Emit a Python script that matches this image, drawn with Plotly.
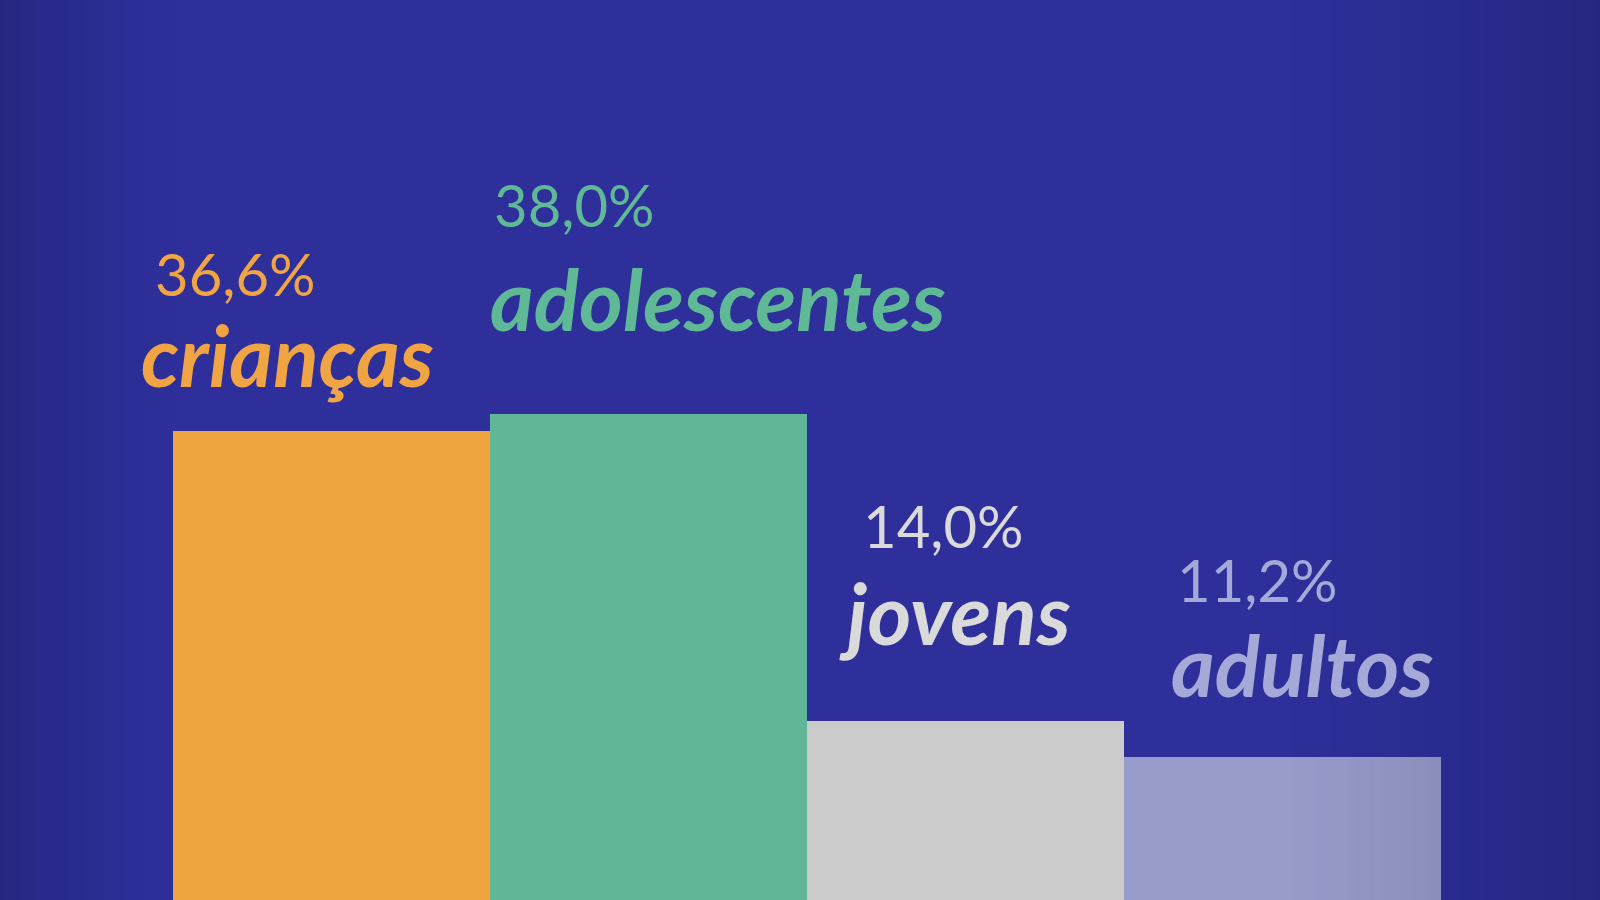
import plotly.graph_objects as go

# ---- data ----
categories = ["crianças", "adolescentes", "jovens", "adultos"]
values = [36.6, 38.0, 14.0, 11.2]
value_labels = ["36,6%", "38,0%", "14,0%", "11,2%"]
bar_colors = ["#EFA43F", "#61B697", "#CBCBCB", "#979CCB"]
text_colors = ["#F0A443", "#5FB896", "#DADADA", "#A4A9D8"]

W, H = 1600, 900
BG = "#2E2F9A"

fig = go.Figure()
fig.add_trace(go.Bar(
    x=list(range(len(categories))),
    y=values,
    width=1.0,
    marker=dict(color=bar_colors, line=dict(width=0)),
    hoverinfo="skip",
    showlegend=False,
))

# label placement (pixel positions in the 1600x900 canvas)
pct_pos = [(153, 273), (492, 204), (861, 525), (1175, 579)]
name_pos = [(139, 354), (488, 298), (837, 612), (1169, 664)]

annotations = []
for i in range(len(categories)):
    px, py = pct_pos[i]
    annotations.append(dict(
        text=value_labels[i], xref="paper", yref="paper",
        x=px / W, y=1 - py / H, xanchor="left", yanchor="middle",
        showarrow=False,
        font=dict(family="Lato", size=58, color=text_colors[i], weight=400),
    ))
    nx, ny = name_pos[i]
    annotations.append(dict(
        text=categories[i], xref="paper", yref="paper",
        x=nx / W, y=1 - ny / H, xanchor="left", yanchor="middle",
        showarrow=False,
        font=dict(family="Lato", size=84, color=text_colors[i],
                  weight="bold", style="italic"),
    ))

# vignette overlay at left and right edges
shapes = []
step = 5
for x0 in range(0, 175, step):
    a = 0.2 * (1 - x0 / 175) ** 1.3
    shapes.append(dict(type="rect", xref="paper", yref="paper",
                       x0=x0 / W, x1=(x0 + step) / W, y0=0, y1=1,
                       fillcolor=f"rgba(10,10,40,{a:.3f})",
                       line=dict(width=0), layer="above"))
for x0 in range(1280, W, step):
    a = 0.22 * ((x0 - 1280) / (W - 1280)) ** 1.2
    shapes.append(dict(type="rect", xref="paper", yref="paper",
                       x0=x0 / W, x1=min(x0 + step, W) / W, y0=0, y1=1,
                       fillcolor=f"rgba(10,10,40,{a:.3f})",
                       line=dict(width=0), layer="above"))

fig.update_layout(
    width=W, height=H,
    margin=dict(l=0, r=0, t=0, b=0),
    paper_bgcolor=BG,
    plot_bgcolor="rgba(0,0,0,0)",
    bargap=0,
    xaxis=dict(range=[-1.0475, 4.0017], visible=False, fixedrange=True),
    yaxis=dict(range=[0, 70.3], visible=False, fixedrange=True),
    annotations=annotations,
    shapes=shapes,
)

fig.write_html(
    "out.html",
    config={"displayModeBar": False},
    post_script="document.body.style.margin='0';document.body.style.background='%s';" % BG,
)
